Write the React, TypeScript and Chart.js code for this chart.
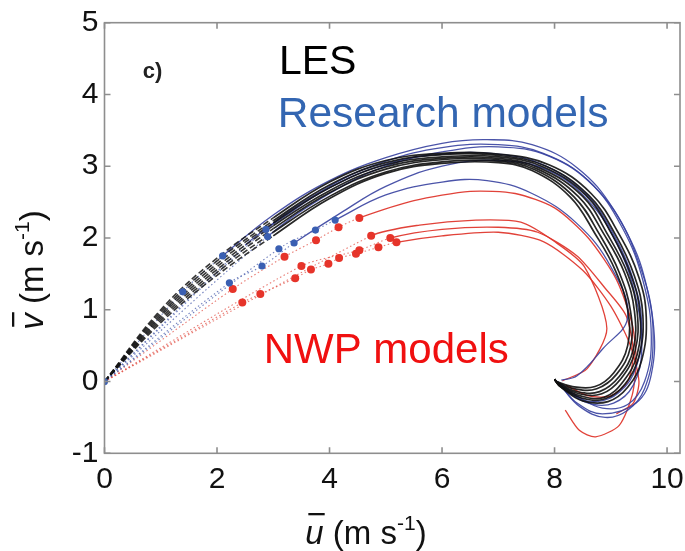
import { useEffect, useRef } from "react";
import { Chart, registerables } from "chart.js";
Chart.register(...registerables);

const xTicks = [0, 2, 4, 6, 8, 10];
const yTicks = [-1, 0, 1, 2, 3, 4, 5];

// LES (black)
const les1U = [0, 1, 2, 3, 4, 5, 6, 7, 7.9, 8.65, 9.15, 9.5, 9.63, 9.55, 9.3, 8.95, 8.5, 8.15, 8.0];
const les1V = [0, 1.0, 1.72, 2.28, 2.78, 3.08, 3.18, 3.17, 3.02, 2.62, 2.05, 1.45, 0.9, 0.3, -0.08, -0.28, -0.27, -0.1, 0.03];
const les2U = [0, 1, 2, 3, 4, 5, 6, 7, 7.85, 8.6, 9.08, 9.42, 9.57, 9.5, 9.25, 8.9, 8.48, 8.12, 8.0];
const les2V = [0, 0.97, 1.68, 2.24, 2.74, 3.05, 3.16, 3.15, 3.0, 2.6, 2.05, 1.47, 0.92, 0.35, -0.04, -0.24, -0.23, -0.08, 0.03];
const les3U = [0, 1, 2, 3, 4, 5, 6, 7, 7.8, 8.55, 9.02, 9.36, 9.52, 9.47, 9.22, 8.88, 8.46, 8.1, 8.0];
const les3V = [0, 0.94, 1.64, 2.21, 2.7, 3.02, 3.13, 3.13, 2.99, 2.6, 2.05, 1.48, 0.94, 0.38, 0.0, -0.22, -0.2, -0.07, 0.03];
const les4U = [0, 1, 2, 3, 4, 5, 6, 7, 7.75, 8.5, 8.95, 9.3, 9.47, 9.43, 9.18, 8.84, 8.44, 8.08, 8.0];
const les4V = [0, 0.91, 1.6, 2.17, 2.66, 2.99, 3.11, 3.11, 2.97, 2.58, 2.04, 1.5, 0.96, 0.42, 0.04, -0.17, -0.17, -0.05, 0.03];
const les5U = [0, 1, 2, 3, 4, 5, 6, 7, 7.7, 8.42, 8.88, 9.24, 9.42, 9.4, 9.15, 8.8, 8.4, 8.06, 8.0];
const les5V = [0, 0.88, 1.56, 2.13, 2.63, 2.96, 3.09, 3.09, 2.96, 2.58, 2.05, 1.52, 0.98, 0.45, 0.07, -0.14, -0.14, -0.03, 0.03];
const les6U = [0, 1, 2, 3, 4, 5, 6, 7, 7.65, 8.35, 8.8, 9.15, 9.35, 9.35, 9.1, 8.75, 8.35, 8.05, 8.0];
const les6V = [0, 0.85, 1.52, 2.08, 2.58, 2.92, 3.06, 3.07, 2.95, 2.57, 2.05, 1.52, 0.98, 0.48, 0.1, -0.1, -0.1, -0.01, 0.03];
const les7U = [0, 1, 2, 3, 4, 5, 6, 7, 7.6, 8.28, 8.72, 9.08, 9.3, 9.3, 9.05, 8.72, 8.32, 8.04, 8.0];
const les7V = [0, 0.82, 1.48, 2.03, 2.55, 2.9, 3.04, 3.05, 2.94, 2.57, 2.06, 1.55, 1.0, 0.5, 0.12, -0.07, -0.07, 0.0, 0.03];

// Research models (blue)
const res1U = [0, 1.39, 2.1, 3, 4, 5, 6, 6.8, 7.6, 8.4, 9.05, 9.5, 9.75, 9.72, 9.45, 8.85, 8.4, 8.1];
const res1V = [0, 1.25, 1.75, 2.32, 2.8, 3.12, 3.32, 3.37, 3.3, 2.98, 2.4, 1.65, 0.85, 0.1, -0.3, -0.45, -0.3, -0.05];
const res2U = [0, 2.87, 4, 5, 6, 7, 7.8, 8.6, 9.2, 9.58, 9.72, 9.6, 9.3, 8.85, 8.4, 8.1];
const res2V = [0, 2.12, 2.72, 3.07, 3.26, 3.3, 3.18, 2.8, 2.15, 1.38, 0.62, 0.0, -0.32, -0.37, -0.2, -0.02];
const res3U = [0, 3.1, 3.75, 4.1, 5, 6, 6.8, 7.6, 8.4, 9.0, 9.3, 8.85, 8.4, 8.12];
const res3V = [0, 1.85, 2.11, 2.25, 2.6, 2.78, 2.8, 2.62, 2.2, 1.6, 0.9, 0.45, 0.08, 0.02];
const res4U = [0, 2.22, 2.8, 3.37, 4.2, 5, 6, 7, 7.9, 8.6, 9.12, 9.45, 9.55, 9.4, 9.05, 8.6, 8.2, 8.05];
const res4V = [0, 1.375, 1.61, 1.93, 2.35, 2.72, 3.0, 3.08, 2.94, 2.52, 1.9, 1.15, 0.45, -0.05, -0.3, -0.3, -0.12, 0.0];
const res5U = [0, 2.9, 4, 5, 6, 7, 7.9, 8.7, 9.3, 9.65, 9.75, 9.6, 9.3, 8.9, 8.45, 8.1];
const res5V = [0, 2.02, 2.62, 3.0, 3.2, 3.27, 3.14, 2.72, 2.05, 1.28, 0.5, -0.1, -0.4, -0.5, -0.35, -0.05];
const res6U = [0, 2.5, 3.2, 4, 5, 6, 7, 7.8, 8.55, 9.05, 9.4, 9.55, 9.45, 9.15, 8.75, 8.35, 8.05];
const res6V = [0, 1.9, 2.3, 2.7, 3.03, 3.17, 3.17, 3.02, 2.62, 2.05, 1.42, 0.8, 0.2, -0.15, -0.28, -0.2, 0.0];
const resMarkers = [2, 1, 3, 3, 1, 0];

// NWP models (red)
const nwp1U = [0, 2.28, 3.2, 3.76, 4.16, 4.53, 5.5, 6.5, 7.3, 8.0, 8.6, 9.1, 9.38, 9.45, 9.38, 9.15, 8.73, 8.44, 8.19];
const nwp1V = [0, 1.29, 1.74, 1.97, 2.15, 2.28, 2.52, 2.65, 2.62, 2.42, 2.0, 1.42, 0.8, 0.28, -0.19, -0.61, -0.77, -0.68, -0.4];
const nwp2U = [0, 4.74, 5.6, 6.6, 7.4, 8.0, 8.53, 8.93, 8.58, 8.14];
const nwp2V = [0, 2.03, 2.18, 2.25, 2.22, 1.95, 1.6, 0.74, 0.18, 0.01];
const nwp3U = [0, 3.5, 4.53, 5.08, 6, 7, 7.7, 8.4, 8.9, 9.27, 9.4, 9.3, 9.0, 8.6, 8.2];
const nwp3V = [0, 1.61, 1.83, 2.0, 2.12, 2.15, 2.08, 1.75, 1.3, 0.92, 0.4, 0.0, -0.2, -0.2, -0.05];
const nwp4U = [0, 2.45, 2.77, 3.39, 3.67, 3.98, 4.17, 4.47, 4.87, 5.19, 6.0, 7.0, 7.8, 8.5, 9.0, 9.35, 9.5, 9.4, 9.1];
const nwp4V = [0, 1.1, 1.22, 1.44, 1.56, 1.64, 1.72, 1.78, 1.87, 1.94, 2.03, 2.08, 1.95, 1.55, 1.05, 0.5, 0.0, -0.3, -0.45];
const nwpMarkers = [5, 1, 3, 9];

const lesCurves = [[les1U, les1V], [les2U, les2V], [les3U, les3V], [les4U, les4V], [les5U, les5V], [les6U, les6V], [les7U, les7V]];
const resCurves = [[res1U, res1V], [res2U, res2V], [res3U, res3V], [res4U, res4V], [res5U, res5V], [res6U, res6V]];
const nwpCurves = [[nwp1U, nwp1V], [nwp2U, nwp2V], [nwp3U, nwp3V], [nwp4U, nwp4V]];

const FONT = "'Liberation Sans', Arial, Helvetica, sans-serif";

type Opts = {
  color: string; width: number; tension: number; dotUntil: number;
  dash: number[]; dashWidth: number; dashColor: string;
};

function lineDataset(u: number[], v: number[], o: Opts) {
  return {
    data: u.map((x, i) => ({ x, y: v[i] })),
    showLine: true,
    borderColor: o.color,
    borderWidth: o.width,
    tension: o.tension,
    pointRadius: 0,
    pointHoverRadius: 0,
    segment: {
      borderDash: (ctx: any) => (ctx.p1DataIndex <= o.dotUntil ? o.dash : undefined),
      borderWidth: (ctx: any) => (ctx.p1DataIndex <= o.dotUntil ? o.dashWidth : undefined),
      borderColor: (ctx: any) => (ctx.p1DataIndex <= o.dotUntil ? o.dashColor : undefined),
    },
  };
}

function markerDataset(u: number[], v: number[], from: number, to: number, color: string, r: number) {
  const pts = [] as { x: number; y: number }[];
  for (let i = from; i <= to; i++) pts.push({ x: u[i], y: v[i] });
  return {
    data: pts,
    showLine: false,
    pointRadius: r,
    pointHoverRadius: 0,
    pointBackgroundColor: color,
    pointBorderWidth: 0,
  };
}

const decorPlugin = {
  id: "decor",
  afterDraw(chart: any) {
    const { ctx, chartArea: ca, scales } = chart;
    const xs = scales.x, ys = scales.y;
    ctx.save();
    // frame
    ctx.strokeStyle = "#8e8e8e";
    ctx.lineWidth = 1.6;
    ctx.strokeRect(ca.left, ca.top, ca.right - ca.left, ca.bottom - ca.top);
    // inward ticks
    ctx.beginPath();
    for (const t of xTicks) {
      const px = xs.getPixelForValue(t);
      ctx.moveTo(px, ca.bottom); ctx.lineTo(px, ca.bottom - 6);
      ctx.moveTo(px, ca.top); ctx.lineTo(px, ca.top + 6);
    }
    for (const t of yTicks) {
      const py = ys.getPixelForValue(t);
      ctx.moveTo(ca.left, py); ctx.lineTo(ca.left + 6, py);
      ctx.moveTo(ca.right, py); ctx.lineTo(ca.right - 6, py);
    }
    ctx.stroke();

    // annotations
    ctx.textBaseline = "alphabetic";
    ctx.textAlign = "left";
    ctx.fillStyle = "#222";
    ctx.font = `bold 22px ${FONT}`;
    ctx.fillText("c)", xs.getPixelForValue(0.68), ys.getPixelForValue(4.23));
    ctx.fillStyle = "#000";
    ctx.font = `41px ${FONT}`;
    ctx.fillText("LES", xs.getPixelForValue(3.1), ys.getPixelForValue(4.28));
    ctx.fillStyle = "#3366b2";
    ctx.font = `42.5px ${FONT}`;
    ctx.fillText("Research models", xs.getPixelForValue(3.08), ys.getPixelForValue(3.54));
    ctx.fillStyle = "#f01010";
    ctx.font = `42px ${FONT}`;
    ctx.fillText("NWP models", xs.getPixelForValue(2.83), ys.getPixelForValue(0.26));

    // axis titles
    const drawTitle = (letter: string, cx: number, cy: number, rotate: boolean) => {
      ctx.save();
      ctx.translate(cx, cy);
      if (rotate) ctx.rotate(-Math.PI / 2);
      ctx.fillStyle = "#111";
      const fMain = `33px ${FONT}`;
      const fIt = `italic 33px ${FONT}`;
      const fSup = `21px ${FONT}`;
      ctx.font = fIt; const wL = ctx.measureText(letter).width;
      ctx.font = fMain; const wA = ctx.measureText(" (m s").width;
      ctx.font = fSup; const wS = ctx.measureText("-1").width;
      ctx.font = fMain; const wB = ctx.measureText(")").width;
      const total = wL + wA + wS + wB;
      let x = -total / 2;
      ctx.font = fIt; ctx.fillText(letter, x, 0);
      ctx.fillRect(x + 3, -31, wL - 2, 2.3);
      x += wL;
      ctx.font = fMain; ctx.fillText(" (m s", x, 0); x += wA;
      ctx.font = fSup; ctx.fillText("-1", x, -14); x += wS;
      ctx.font = fMain; ctx.fillText(")", x, 0);
      ctx.restore();
    };
    drawTitle("u", 366, 544, false);
    drawTitle("v", 43, 270, true);
    ctx.restore();
  },
};

export default function App() {
  const ref = useRef<HTMLCanvasElement>(null);
  useEffect(() => {
    if (!ref.current) return;
    const markers: any[] = [];
    const lines: any[] = [];
    markers.push(markerDataset(res1U, res1V, 0, 0, "#3a5fb2", 3.6));
    resCurves.forEach(([u, v], k) => {
      if (resMarkers[k] > 0) markers.push(markerDataset(u, v, 1, resMarkers[k], "#3a5fb2", 3.6));
    });
    nwpCurves.forEach(([u, v], k) => {
      markers.push(markerDataset(u, v, 1, nwpMarkers[k], "#e6342a", 4));
    });
    lesCurves.forEach(([u, v]) =>
      lines.push(lineDataset(u, v, {
        color: "rgba(15,15,15,0.9)", width: 1.7, tension: 0.4, dotUntil: 3,
        dash: [6, 3], dashWidth: 1.6, dashColor: "rgba(20,20,20,0.85)",
      }))
    );
    resCurves.forEach(([u, v], k) =>
      lines.push(lineDataset(u, v, {
        color: "rgba(55,65,160,0.9)", width: 1.3, tension: 0.4,
        dotUntil: Math.max(resMarkers[k], 1), dash: [1.5, 2.5], dashWidth: 1.1,
        dashColor: "rgba(70,90,170,0.75)",
      }))
    );
    nwpCurves.forEach(([u, v], k) =>
      lines.push(lineDataset(u, v, {
        color: "rgba(222,50,40,0.92)", width: 1.3, tension: 0.25,
        dotUntil: nwpMarkers[k], dash: [1.5, 2.5], dashWidth: 1.1,
        dashColor: "rgba(225,80,70,0.75)",
      }))
    );
    const chart = new Chart(ref.current, {
      type: "scatter",
      data: { datasets: [...markers, ...lines] },
      options: {
        animation: false,
        responsive: false,
        events: [],
        layout: { padding: { top: 22.7, right: 5, left: 0, bottom: 0 } },
        plugins: { legend: { display: false }, tooltip: { enabled: false } },
        scales: {
          x: {
            type: "linear", min: 0, max: 10.23,
            grid: { display: false, drawTicks: false },
            border: { display: false },
            afterFit: (s: any) => { s.height = 97.7; s.paddingLeft = 0; s.paddingRight = 0; },
            afterBuildTicks: (s: any) => { s.ticks = xTicks.map((value) => ({ value })); },
            ticks: { color: "#111", font: { size: 30, family: FONT }, padding: 8, maxRotation: 0, autoSkip: false },
          },
          y: {
            type: "linear", min: -1, max: 5,
            grid: { display: false, drawTicks: false },
            border: { display: false },
            afterFit: (s: any) => { s.width = 104.5; s.paddingTop = 0; s.paddingBottom = 0; },
            afterBuildTicks: (s: any) => { s.ticks = yTicks.map((value) => ({ value })); },
            ticks: { color: "#111", font: { size: 30, family: FONT }, padding: 6, autoSkip: false },
          },
        },
      },
      plugins: [decorPlugin],
    });
    return () => chart.destroy();
  }, []);
  return (
    <div style={{ position: "absolute", left: 0, top: 0, width: 685, height: 551, background: "#fff" }}>
      <canvas ref={ref} width={685} height={551} style={{ display: "block" }} />
    </div>
  );
}
